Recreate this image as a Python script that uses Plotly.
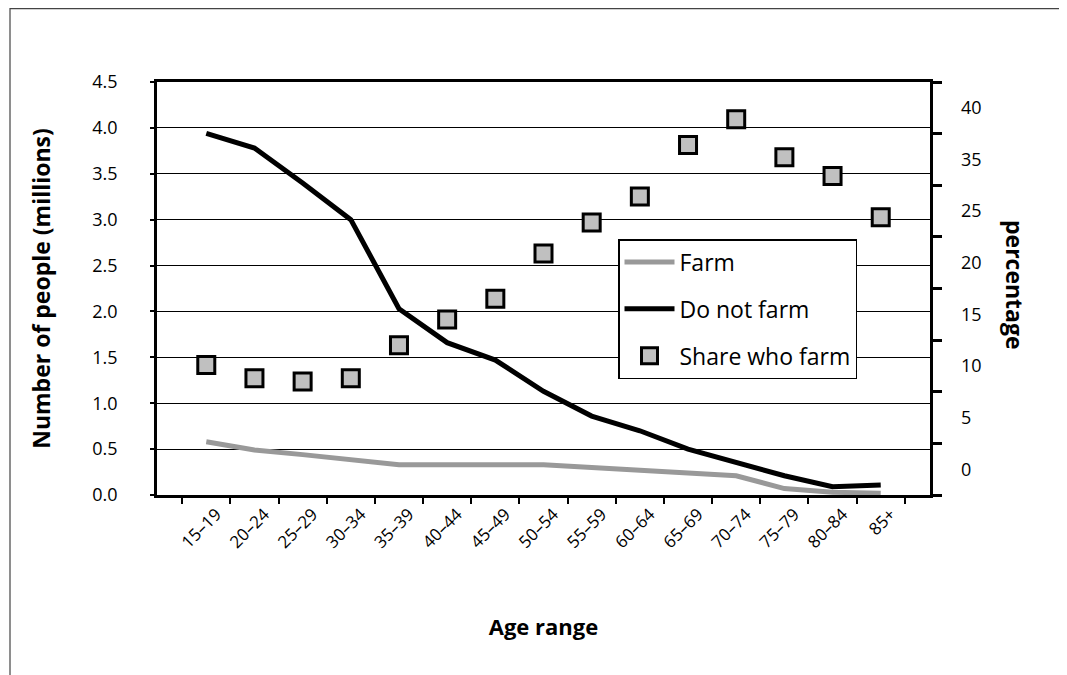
import plotly.graph_objects as go

# ---- data ----
age_ranges = ["15–19", "20–24", "25–29", "30–34", "35–39", "40–44", "45–49",
              "50–54", "55–59", "60–64", "65–69", "70–74", "75–79", "80–84", "85+"]
farm = [0.58, 0.49, 0.44, 0.38, 0.33, 0.33, 0.33, 0.33, 0.30, 0.27, 0.24, 0.21, 0.07, 0.03, 0.02]
do_not_farm = [3.94, 3.78, 3.40, 3.00, 2.03, 1.66, 1.47, 1.13, 0.86, 0.70, 0.50, 0.35, 0.21, 0.09, 0.11]
share_who_farm = [12.6, 11.3, 11.0, 11.3, 14.5, 17.0, 19.0, 23.4, 26.4, 28.9, 33.9, 36.4, 32.7, 30.9, 26.9]

left_tick_values = [0, 0.5, 1.0, 1.5, 2.0, 2.5, 3.0, 3.5, 4.0, 4.5]
left_tick_labels = ["0.0", "0.5", "1.0", "1.5", "2.0", "2.5", "3.0", "3.5", "4.0", "4.5"]
right_label_values = [2.5, 7.5, 12.5, 17.5, 22.5, 27.5, 32.5, 37.5]
right_tick_labels = ["0", "5", "10", "15", "20", "25", "35", "40"]
right_tick_marks = [0, 5, 10, 15, 20, 25, 30, 35, 40]

FONT = "Open Sans"
W, H = 1059, 667          # page body adds an 8px margin
L, R, T, B = 149, 137, 74, 180
pw, ph = W - L - R, H - T - B


def px(xs):   # screen x pixel -> paper x
    return (xs - 8 - L) / pw


def py(ys):   # screen y pixel -> paper y
    return (H - B - (ys - 8)) / ph


fig = go.Figure()
fig.add_trace(go.Scatter(x=age_ranges, y=farm, name="Farm", mode="lines",
                         line=dict(color="#999999", width=5), legendgroup="a"))
fig.add_trace(go.Scatter(x=age_ranges, y=do_not_farm, name="Do not farm", mode="lines",
                         line=dict(color="#000000", width=5), legendgroup="b"))
fig.add_trace(go.Scatter(x=age_ranges, y=share_who_farm, name="Share who farm", mode="markers",
                         yaxis="y2", legendgroup="c",
                         marker=dict(symbol="square", size=17, color="#c0c0c0",
                                     line=dict(color="#000000", width=3))))
# invisible trace for the right-hand tick-mark axis
fig.add_trace(go.Scatter(x=[age_ranges[0]], y=[0], yaxis="y3", mode="markers",
                         marker=dict(opacity=0), showlegend=False, hoverinfo="skip"))

fig.update_layout(
    width=W, height=H,
    margin=dict(l=L, r=R, t=T, b=B),
    paper_bgcolor="white", plot_bgcolor="white",
    font=dict(family=FONT, color="black", size=18),
    showlegend=True,
    legend=dict(x=px(618), y=py(239), xanchor="left", yanchor="top",
                bgcolor="white", bordercolor="black", borderwidth=1.5,
                font=dict(size=23, family=FONT), tracegroupgap=14,
                traceorder="grouped", itemwidth=50),
    xaxis=dict(type="category", tickson="boundaries", ticks="outside", ticklen=6,
               tickwidth=2, tickcolor="black", showline=True, linewidth=2.5,
               linecolor="black", mirror=True, tickangle=-45, ticklabelshift=10,
               tickfont=dict(size=17), showgrid=False,
               title=dict(text="<b>Age range</b>", font=dict(size=22), standoff=68)),
    yaxis=dict(range=[0, 4.5], tickmode="array", tickvals=left_tick_values,
               ticktext=left_tick_labels, ticks="outside", ticklen=4, tickwidth=2,
               tickcolor="black", showline=True, linewidth=2.5, linecolor="black",
               mirror=True, showgrid=True, gridcolor="black", gridwidth=1,
               zeroline=False, ticklabelstandoff=29, tickfont=dict(size=18),
               title=dict(text="<b>Number of people (millions)</b>", font=dict(size=23),
                          standoff=36)),
    yaxis2=dict(overlaying="y", side="right", range=[0, 40], tickmode="array",
                tickvals=right_label_values, ticktext=right_tick_labels, ticks="",
                showgrid=False, showline=False, zeroline=False, ticklabelstandoff=30,
                tickfont=dict(size=18)),
    yaxis3=dict(overlaying="y", side="right", range=[0, 40], tickmode="array",
                tickvals=right_tick_marks, showticklabels=False, ticks="outside",
                ticklen=9, tickwidth=3, tickcolor="black", showline=True,
                linewidth=2.5, linecolor="black", showgrid=False, zeroline=False),
    annotations=[dict(text="<b>percentage</b>", textangle=90, xref="paper", yref="paper",
                      x=px(1015), y=py(285), xanchor="center", yanchor="middle",
                      showarrow=False, font=dict(size=23, family=FONT))],
    shapes=[dict(type="rect", xref="paper", yref="paper",
                 x0=px(10), x1=px(1062), y0=py(720), y1=py(8.6),
                 line=dict(color="#444444", width=1.2), fillcolor="rgba(0,0,0,0)",
                 layer="below")],
)

fig.write_html("out.html")
